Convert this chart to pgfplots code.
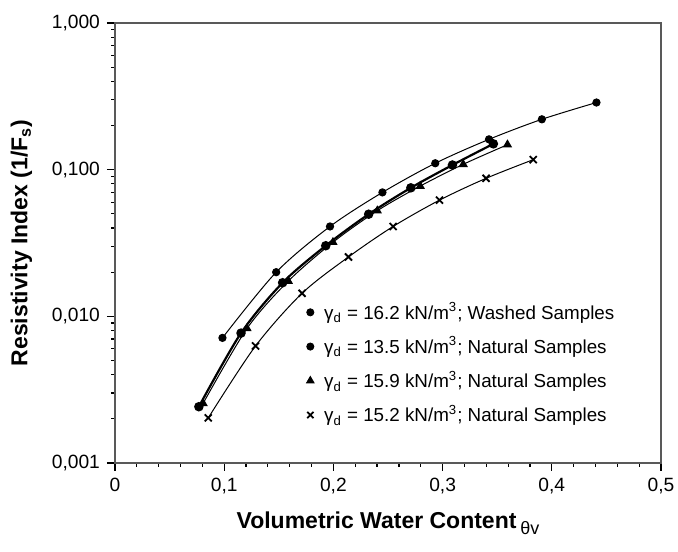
\documentclass[border=0pt]{standalone}
\usepackage{pgfplots}
\pgfplotsset{compat=1.18}
\usepackage{fontspec}
\setmainfont{Liberation Sans}

\begin{document}
\begin{tikzpicture}
\begin{axis}[
  name=ax,
  scale only axis,
  width=273pt, height=220pt,
  ymode=log,
  xmin=0, xmax=0.5, ymin=0.001, ymax=1,
  xtick={0,0.1,0.2,0.3,0.4,0.5},
  xticklabels={0,{0,1},{0,2},{0,3},{0,4},{0,5}},
  ytick={0.001,0.01,0.1,1},
  yticklabels={{0,001},{0,010},{0,100},{1,000}},
  minor x tick num=4,
  xtick pos=bottom, ytick pos=left,
  tick align=outside,
  major tick length=4pt, minor tick length=2pt,
  tick style={black, line width=0.6pt},
  axis line style={line width=0.8pt, gray!70!black},
  ticklabel style={font=\fontsize{9.6}{10}\selectfont},
  xlabel={\textbf{Volumetric Water Content}\,\raisebox{-0.5ex}{\fontsize{9}{10}\selectfont θv}},
  ylabel={\textbf{Resistivity Index (1/F\textsubscript{s})}},
  label style={font=\fontsize{11.5}{13}\selectfont},
  xlabel style={yshift=-2pt},
  ylabel style={yshift=3pt},
  legend style={draw=none, fill=none, at={(0.35,0.375)}, anchor=north west,
    font=\fontsize{9.4}{10}\selectfont, row sep=3.2pt, inner sep=0pt,
    /tikz/every odd column/.append style={column sep=3pt}},
  legend cell align=left,
]
% gamma_d = 16.2, washed
\addplot[black, line width=0.5pt, smooth, mark=*, mark size=1.8pt, forget plot] coordinates {
(0.0984,0.00713) (0.1476,0.0200) (0.1969,0.0410) (0.2449,0.0700)
(0.2933,0.1106) (0.3425,0.161) (0.3909,0.2205) (0.4409,0.287)};
% gamma_d = 13.5, natural
\addplot[black, line width=1.1pt, smooth, mark=*, mark size=1.8pt, forget plot] coordinates {
(0.0768,0.00242) (0.1154,0.00769) (0.1535,0.01695) (0.1930,0.0303)
(0.2323,0.0497) (0.2709,0.0752) (0.3090,0.1076) (0.3465,0.150)};
% gamma_d = 15.9, natural
\addplot[black, line width=0.5pt, smooth, mark=triangle*, mark size=2.2pt, forget plot] coordinates {
(0.0807,0.00255) (0.1209,0.00827) (0.1587,0.0174) (0.1996,0.0320)
(0.2402,0.0525) (0.2795,0.0773) (0.3189,0.1088) (0.3594,0.148)};
% gamma_d = 15.2, natural
\addplot[black, line width=0.5pt, smooth, mark=x, mark size=2.5pt, mark options={line width=0.9pt}, forget plot] coordinates {
(0.0854,0.00203) (0.1287,0.00628) (0.1713,0.01436) (0.2138,0.0254)
(0.2547,0.0410) (0.2972,0.0620) (0.3398,0.0873) (0.3830,0.117)};

\addlegendimage{only marks, mark=*, mark size=1.8pt, black}
\addlegendentry{γ\textsubscript{d} = 16.2 kN/m\textsuperscript{3}; Washed Samples}
\addlegendimage{only marks, mark=*, mark size=1.8pt, black}
\addlegendentry{γ\textsubscript{d} = 13.5 kN/m\textsuperscript{3}; Natural Samples}
\addlegendimage{only marks, mark=triangle*, mark size=2.2pt, black}
\addlegendentry{γ\textsubscript{d} = 15.9 kN/m\textsuperscript{3}; Natural Samples}
\addlegendimage{only marks, mark=x, mark size=2.2pt, black, mark options={line width=0.9pt}}
\addlegendentry{γ\textsubscript{d} = 15.2 kN/m\textsuperscript{3}; Natural Samples}

\coordinate (bl) at (rel axis cs:0,0);
\coordinate (tr) at (rel axis cs:1,1);
\end{axis}
\pgfresetboundingbox
\path ([shift={(-57.5pt,-44pt)}]bl) rectangle ([shift={(8.5pt,11.5pt)}]tr);
\end{tikzpicture}
\end{document}
